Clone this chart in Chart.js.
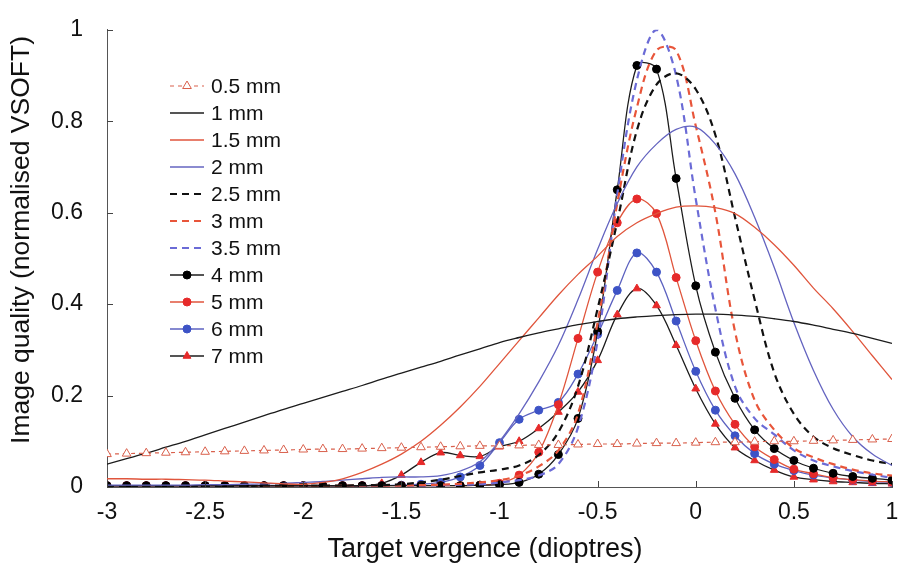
<!DOCTYPE html>
<html>
<head>
<meta charset="utf-8">
<title>Image quality vs target vergence</title>
<script src="https://cdn.jsdelivr.net/npm/chart.js@4.4.1/dist/chart.umd.min.js"></script>
<style>
  html, body { margin: 0; padding: 0; background: #fff; }
  #wrap { width: 898px; height: 568px; }
</style>
</head>
<body>
<div id="wrap"><canvas id="vsoftChart" width="898" height="568"></canvas></div>
<script>
// target vergence in dioptres, sampled every 0.1 D
var vergence = [-3.0, -2.9, -2.8, -2.7, -2.6, -2.5, -2.4, -2.3, -2.2, -2.1,
                -2.0, -1.9, -1.8, -1.7, -1.6, -1.5, -1.4, -1.3, -1.2, -1.1,
                -1.0, -0.9, -0.8, -0.7, -0.6, -0.5, -0.4, -0.3, -0.2, -0.1,
                 0.0,  0.1,  0.2,  0.3,  0.4,  0.5,  0.6,  0.7,  0.8,  0.9, 1.0];

var xTicks = [-3, -2.5, -2, -1.5, -1, -0.5, 0, 0.5, 1];
var yTicks = [0, 0.2, 0.4, 0.6, 0.8, 1];

// normalised VSOFT for each pupil diameter
var pupil05 = [0.072, 0.073, 0.074, 0.075, 0.076, 0.077, 0.078, 0.079, 0.080, 0.081,
               0.082, 0.083, 0.083, 0.084, 0.085, 0.086, 0.087, 0.088, 0.089, 0.090,
               0.090, 0.091, 0.092, 0.092, 0.093, 0.094, 0.094, 0.095, 0.096, 0.096,
               0.097, 0.098, 0.098, 0.099, 0.100, 0.100, 0.101, 0.102, 0.103, 0.104, 0.105];
var pupil1 = [0.050, 0.062, 0.074, 0.087, 0.100, 0.114, 0.128, 0.142, 0.156, 0.170,
              0.183, 0.196, 0.209, 0.222, 0.236, 0.249, 0.262, 0.275, 0.289, 0.302,
              0.316, 0.327, 0.337, 0.346, 0.355, 0.362, 0.368, 0.372, 0.375, 0.377,
              0.378, 0.378, 0.376, 0.373, 0.368, 0.362, 0.354, 0.345, 0.336, 0.325, 0.314];
var pupil15 = [0.018, 0.018, 0.017, 0.017, 0.016, 0.015, 0.013, 0.011, 0.009, 0.007,
               0.006, 0.010, 0.018, 0.032, 0.050, 0.072, 0.100, 0.135, 0.175, 0.220,
               0.270, 0.320, 0.370, 0.420, 0.465, 0.505, 0.548, 0.578, 0.598, 0.612,
               0.615, 0.611, 0.598, 0.568, 0.530, 0.485, 0.435, 0.390, 0.340, 0.287, 0.235];
var pupil2 = [0.004, 0.004, 0.004, 0.004, 0.004, 0.005, 0.005, 0.006, 0.007, 0.008,
              0.010, 0.012, 0.015, 0.018, 0.021, 0.022, 0.022, 0.025, 0.035, 0.055,
              0.100, 0.160, 0.230, 0.310, 0.410, 0.520, 0.620, 0.700, 0.750, 0.782,
              0.787, 0.750, 0.685, 0.590, 0.480, 0.360, 0.255, 0.170, 0.110, 0.072, 0.047];
var pupil25 = [0.002, 0.002, 0.002, 0.002, 0.002, 0.002, 0.002, 0.002, 0.003, 0.003,
               0.003, 0.003, 0.003, 0.004, 0.004, 0.006, 0.010, 0.016, 0.024, 0.032,
               0.038, 0.047, 0.070, 0.120, 0.220, 0.390, 0.580, 0.780, 0.880, 0.905,
               0.870, 0.770, 0.590, 0.410, 0.250, 0.160, 0.110, 0.085, 0.070, 0.058, 0.050];
var pupil3 = [0.002, 0.002, 0.002, 0.002, 0.002, 0.002, 0.002, 0.002, 0.002, 0.002,
              0.002, 0.002, 0.003, 0.003, 0.003, 0.003, 0.004, 0.005, 0.007, 0.010,
              0.015, 0.025, 0.045, 0.080, 0.160, 0.360, 0.620, 0.830, 0.955, 0.955,
              0.790, 0.600, 0.340, 0.190, 0.125, 0.085, 0.065, 0.050, 0.038, 0.030, 0.025];
var pupil35 = [0.002, 0.002, 0.002, 0.002, 0.002, 0.002, 0.002, 0.002, 0.002, 0.002,
               0.002, 0.002, 0.002, 0.002, 0.003, 0.003, 0.003, 0.004, 0.005, 0.006,
               0.010, 0.015, 0.025, 0.050, 0.130, 0.320, 0.640, 0.890, 1.000, 0.900,
               0.630, 0.390, 0.220, 0.150, 0.115, 0.080, 0.058, 0.045, 0.035, 0.027, 0.020];
var pupil4 = [0.003, 0.003, 0.003, 0.003, 0.003, 0.003, 0.003, 0.003, 0.003, 0.003,
              0.003, 0.003, 0.003, 0.003, 0.003, 0.003, 0.003, 0.003, 0.003, 0.004,
              0.005, 0.010, 0.028, 0.071, 0.150, 0.340, 0.650, 0.922, 0.914, 0.675,
              0.440, 0.295, 0.194, 0.125, 0.084, 0.058, 0.041, 0.030, 0.023, 0.019, 0.015];
var pupil5 = [0.003, 0.003, 0.003, 0.003, 0.003, 0.003, 0.003, 0.003, 0.003, 0.003,
              0.003, 0.003, 0.003, 0.003, 0.003, 0.003, 0.003, 0.003, 0.003, 0.004,
              0.008, 0.026, 0.076, 0.180, 0.325, 0.470, 0.578, 0.630, 0.598, 0.458,
              0.320, 0.210, 0.137, 0.088, 0.060, 0.039, 0.029, 0.020, 0.016, 0.013, 0.011];
var pupil6 = [0.003, 0.003, 0.003, 0.003, 0.003, 0.003, 0.003, 0.003, 0.003, 0.003,
              0.003, 0.003, 0.003, 0.003, 0.003, 0.004, 0.006, 0.010, 0.022, 0.047,
              0.097, 0.148, 0.168, 0.185, 0.247, 0.334, 0.430, 0.512, 0.470, 0.363,
              0.253, 0.168, 0.112, 0.073, 0.050, 0.036, 0.026, 0.020, 0.015, 0.012, 0.010];
var pupil7 = [0.002, 0.002, 0.002, 0.002, 0.002, 0.002, 0.002, 0.002, 0.002, 0.002,
              0.002, 0.002, 0.002, 0.002, 0.008, 0.026, 0.054, 0.075, 0.069, 0.067,
              0.088, 0.100, 0.128, 0.164, 0.208, 0.277, 0.377, 0.434, 0.397, 0.310,
              0.215, 0.138, 0.086, 0.058, 0.037, 0.022, 0.016, 0.012, 0.010, 0.008, 0.007];

var seriesNames = ["0.5 mm", "1 mm", "1.5 mm", "2 mm", "2.5 mm", "3 mm", "3.5 mm", "4 mm", "5 mm", "6 mm", "7 mm"];

var RED = "#e0553c", DOTRED = "#e62a2a", BLUE = "#6464c0", DOTBLUE = "#3d53c6", BLACK = "#1c1c1c";
var FONT = "'Liberation Sans', Arial, sans-serif";

function toPoints(values){
  return values.map(function(v, i){ return {x: vergence[i], y: v}; });
}

function makeSet(name, values, style){
  var set = {
    label: name,
    data: toPoints(values),
    borderColor: style.color,
    borderWidth: style.width || 1.3,
    borderDash: style.dash || [],
    pointStyle: style.marker || "circle",
    pointRadius: style.marker ? (style.radius || 4) : 0,
    pointBackgroundColor: style.fill || style.color,
    pointBorderColor: style.markerColor || style.color,
    pointBorderWidth: 1,
    tension: 0.35,
    fill: false
  };
  set.legendMarkerFill = set.pointBackgroundColor;
  set.legendMarkerColor = set.pointBorderColor;
  return set;
}

var datasets = [
  makeSet(seriesNames[0], pupil05, {color: "#d9604c", width: 1.2, dash: [4, 4], marker: "triangle", radius: 5, fill: "#ffffff"}),
  makeSet(seriesNames[1], pupil1, {color: BLACK}),
  makeSet(seriesNames[2], pupil15, {color: RED}),
  makeSet(seriesNames[3], pupil2, {color: BLUE}),
  makeSet(seriesNames[4], pupil25, {color: "#111111", width: 2.2, dash: [7, 5]}),
  makeSet(seriesNames[5], pupil3, {color: "#e8553a", width: 2.2, dash: [7, 5]}),
  makeSet(seriesNames[6], pupil35, {color: "#6b6bd6", width: 2.2, dash: [7, 5]}),
  makeSet(seriesNames[7], pupil4, {color: BLACK, marker: "circle", fill: "#000000", markerColor: "#000000"}),
  makeSet(seriesNames[8], pupil5, {color: RED, marker: "circle", fill: DOTRED, markerColor: DOTRED}),
  makeSet(seriesNames[9], pupil6, {color: "#5c62c0", marker: "circle", fill: DOTBLUE, markerColor: DOTBLUE}),
  makeSet(seriesNames[10], pupil7, {color: BLACK, marker: "triangle", radius: 4.5, fill: DOTRED, markerColor: DOTRED})
];

// inward tick marks, axis titles and the key inside the plot
var decorations = {
  id: "decorations",
  afterDraw: function(chart){
    var ctx = chart.ctx;
    var area = chart.chartArea;
    var xs = chart.scales.x, ys = chart.scales.y;
    ctx.save();
    ctx.strokeStyle = "#444";
    ctx.lineWidth = 1;
    ctx.beginPath();
    xTicks.forEach(function(t){
      var px = Math.round(xs.getPixelForValue(t)) + 0.5;
      ctx.moveTo(px, area.bottom);
      ctx.lineTo(px, area.bottom - 6);
    });
    yTicks.forEach(function(t){
      var py = Math.round(ys.getPixelForValue(t)) + 0.5;
      ctx.moveTo(area.left, py);
      ctx.lineTo(area.left + 6, py);
    });
    ctx.stroke();

    ctx.fillStyle = "#111";
    ctx.textAlign = "center";
    ctx.textBaseline = "middle";
    ctx.font = "27px " + FONT;
    ctx.fillText("Target vergence (dioptres)", 485, 550);
    ctx.font = "26.5px " + FONT;
    ctx.translate(22, 240);
    ctx.rotate(-Math.PI / 2);
    ctx.fillText("Image quality (normalised VSOFT)", 0, 0);
    ctx.setTransform(1, 0, 0, 1, 0, 0);

    // key
    var x0 = 170, x1 = 204, top = 86, step = 27;
    ctx.font = "21px " + FONT;
    ctx.textAlign = "left";
    chart.data.datasets.forEach(function(ds, i){
      var y = top + i * step;
      ctx.strokeStyle = ds.borderColor;
      ctx.lineWidth = ds.borderWidth;
      ctx.setLineDash(ds.borderDash);
      ctx.beginPath();
      ctx.moveTo(x0, y);
      ctx.lineTo(x1, y);
      ctx.stroke();
      ctx.setLineDash([]);
      if (ds.pointRadius > 0) {
        var r = ds.pointRadius, cx = (x0 + x1) / 2;
        ctx.fillStyle = ds.legendMarkerFill;
        ctx.strokeStyle = ds.legendMarkerColor;
        ctx.lineWidth = 1;
        ctx.beginPath();
        if (ds.pointStyle === "circle") {
          ctx.arc(cx, y, r, 0, Math.PI * 2);
        } else {
          ctx.moveTo(cx, y - r);
          ctx.lineTo(cx + r * 0.87, y + r * 0.5);
          ctx.lineTo(cx - r * 0.87, y + r * 0.5);
          ctx.closePath();
        }
        ctx.fill();
        ctx.stroke();
      }
      ctx.fillStyle = "#111";
      ctx.fillText(ds.label, 211, y + 1);
    });
    ctx.restore();
  }
};

var ctx = document.getElementById("vsoftChart").getContext("2d");
var chart = new Chart(ctx, {
  type: "line",
  data: { datasets: datasets },
  options: {
    responsive: false,
    animation: false,
    layout: { padding: { left: 0, top: 22, right: 3, bottom: 0 } },
    plugins: {
      legend: { display: false },
      tooltip: { enabled: false }
    },
    scales: {
      x: {
        type: "linear",
        min: -3,
        max: 1,
        afterFit: function(scale){ scale.height = 81; scale.paddingRight = 0; },
        afterBuildTicks: function(scale){ scale.ticks = xTicks.map(function(v){ return {value: v}; }); },
        grid: { display: false },
        border: { display: true, color: "#555", width: 1 },
        ticks: {
          padding: 4,
          color: "#111",
          font: { family: FONT, size: 23 },
          maxRotation: 0,
          callback: function(v){ return String(v); }
        }
      },
      y: {
        min: 0,
        max: 1,
        afterFit: function(scale){ scale.width = 107; },
        afterBuildTicks: function(scale){ scale.ticks = yTicks.map(function(v){ return {value: v}; }); },
        grid: { display: false },
        border: { display: true, color: "#555", width: 1 },
        ticks: {
          padding: 16,
          color: "#111",
          font: { family: FONT, size: 23 },
          callback: function(v){ return String(Number(v.toFixed(1))); }
        }
      }
    }
  },
  plugins: [decorations]
});
</script>
</body>
</html>
